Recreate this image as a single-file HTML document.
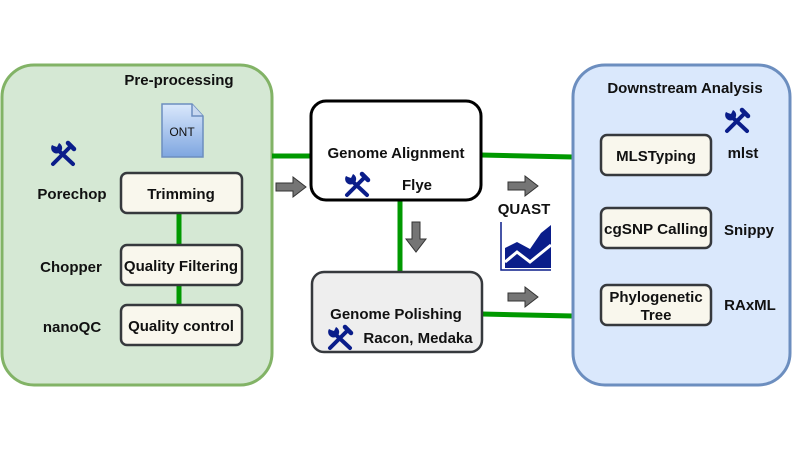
<!DOCTYPE html>
<html><head><meta charset="utf-8"><style>
html,body{margin:0;padding:0;background:#fff;}
svg text{font-family:"Liberation Sans",Arial,sans-serif;font-weight:bold;font-size:15px;fill:#111;}
</style></head><body>
<svg width="793" height="450" viewBox="0 0 793 450" xmlns="http://www.w3.org/2000/svg">
<defs>
<linearGradient id="g1" x1="0" y1="0" x2="0" y2="1"><stop offset="0" stop-color="#dae8fc"/><stop offset="1" stop-color="#7ea6e0"/></linearGradient>
<g id="wr">
<path d="M-10,11 L8,-7" stroke="#0a1d8a" stroke-width="4" stroke-linecap="round"/>
<path d="M5,-10 L11,-4" stroke="#0a1d8a" stroke-width="4.5" stroke-linecap="round"/>
<path d="M-6,-4 L10,11" stroke="#0a1d8a" stroke-width="4" stroke-linecap="round"/>
<path d="M-11,-8 A5.5,5.5 0 1 0 -4,-10 L-6,-6 L-9,-7 Z" fill="#0a1d8a"/>
</g>
<g id="ar"><path d="M0,-4 L17,-4 L17,-10 L30,0 L17,10 L17,4 L0,4 Z" fill="#757575" stroke="#333" stroke-width="1"/></g>
</defs>
<rect x="2" y="65" width="270" height="320" rx="32" fill="#d5e8d4" stroke="#82b366" stroke-width="3"/>
<text x="179" y="85" text-anchor="middle">Pre-processing</text>
<path d="M162,104 L192,104 L203,116 L203,157 L162,157 Z" fill="url(#g1)" stroke="#6c8ebf" stroke-width="1.5"/>
<path d="M192,104 L192,116 L203,116" fill="#c8d8f0" stroke="#6c8ebf" stroke-width="1.5"/>
<text x="182" y="136" text-anchor="middle" style="font-weight:normal;font-size:12px">ONT</text>
<use href="#wr" x="63" y="153"/>
<line x1="179" y1="213" x2="179" y2="245" stroke="#009900" stroke-width="5"/>
<line x1="179" y1="285" x2="179" y2="305" stroke="#009900" stroke-width="5"/>
<rect x="121" y="173" width="121" height="40" rx="6" fill="#f9f7ed" stroke="#36393d" stroke-width="2.5"/>
<text x="181" y="199" text-anchor="middle">Trimming</text>
<rect x="121" y="245" width="121" height="40" rx="6" fill="#f9f7ed" stroke="#36393d" stroke-width="2.5"/>
<text x="181" y="271" text-anchor="middle">Quality Filtering</text>
<rect x="121" y="305" width="121" height="40" rx="6" fill="#f9f7ed" stroke="#36393d" stroke-width="2.5"/>
<text x="181" y="331" text-anchor="middle">Quality control</text>
<text x="72" y="199" text-anchor="middle">Porechop</text>
<text x="71" y="272" text-anchor="middle">Chopper</text>
<text x="72" y="332" text-anchor="middle">nanoQC</text>
<line x1="272" y1="156" x2="311" y2="156" stroke="#009900" stroke-width="5"/>
<line x1="481" y1="155" x2="573" y2="157" stroke="#009900" stroke-width="5"/>
<line x1="400" y1="200" x2="400" y2="272" stroke="#009900" stroke-width="5"/>
<line x1="482" y1="314" x2="573" y2="316" stroke="#009900" stroke-width="5"/>
<use href="#ar" x="276" y="187"/>
<use href="#ar" x="508" y="186"/>
<use href="#ar" x="508" y="297"/>
<g transform="translate(416,222) rotate(90)"><use href="#ar"/></g>
<rect x="311" y="101" width="170" height="99" rx="15" fill="#fff" stroke="#000" stroke-width="3"/>
<text x="396" y="158" text-anchor="middle">Genome Alignment</text>
<use href="#wr" x="357" y="184"/>
<text x="417" y="190" text-anchor="middle">Flye</text>
<rect x="312" y="272" width="170" height="80" rx="12" fill="#eeeeee" stroke="#36393d" stroke-width="2.5"/>
<text x="396" y="319" text-anchor="middle">Genome Polishing</text>
<use href="#wr" x="340" y="337"/>
<text x="418" y="343" text-anchor="middle">Racon, Medaka</text>
<text x="524" y="214" text-anchor="middle">QUAST</text>
<path d="M501,222 L501,270 L551,270" fill="none" stroke="#0a1d8a" stroke-width="1.5"/>
<path d="M505,268 L505,248 L517,242 L530,249 L541,233 L551,225 L551,268 Z" fill="#0a1d8a"/>
<path d="M505,262 L517,252 L530,262 L551,245" fill="none" stroke="#fff" stroke-width="3"/>
<rect x="573" y="65" width="217" height="320" rx="32" fill="#dae8fc" stroke="#6c8ebf" stroke-width="3"/>
<text x="685" y="93" text-anchor="middle">Downstream Analysis</text>
<use href="#wr" x="737" y="120"/>
<rect x="601" y="135" width="110" height="40" rx="6" fill="#f9f7ed" stroke="#36393d" stroke-width="2.5"/>
<text x="656" y="161" text-anchor="middle">MLSTyping</text>
<rect x="601" y="208" width="110" height="40" rx="6" fill="#f9f7ed" stroke="#36393d" stroke-width="2.5"/>
<text x="656" y="234" text-anchor="middle" textLength="104" lengthAdjust="spacingAndGlyphs">cgSNP Calling</text>
<rect x="601" y="285" width="110" height="40" rx="6" fill="#f9f7ed" stroke="#36393d" stroke-width="2.5"/>
<text x="656" y="302" text-anchor="middle">Phylogenetic</text>
<text x="656" y="320" text-anchor="middle">Tree</text>
<text x="743" y="158" text-anchor="middle">mlst</text>
<text x="749" y="235" text-anchor="middle">Snippy</text>
<text x="750" y="310" text-anchor="middle">RAxML</text>
</svg>
</body></html>
